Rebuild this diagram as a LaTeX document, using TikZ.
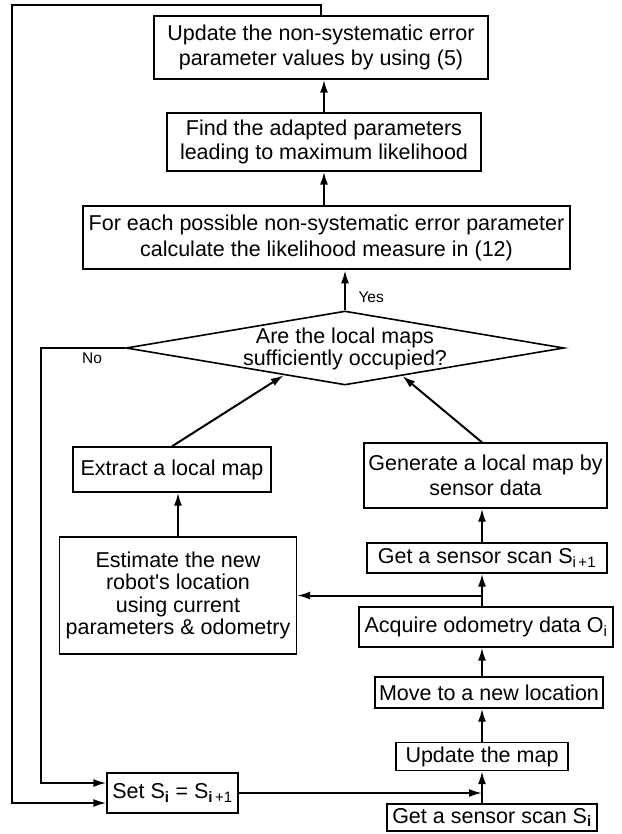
\documentclass[tikz,border=0pt]{standalone}
\usepackage{fontspec}
\setmainfont{Liberation Sans}
\usetikzlibrary{arrows.meta,shapes.geometric}
\begin{document}
\begin{tikzpicture}[x=1pt,y=-1pt,
    box/.style={draw,line width=1.3pt,align=center,inner sep=0pt,font=\fontsize{21.5}{25}\selectfont},
    arr/.style={line width=2pt,-{Latex[length=13pt,width=8pt]}},
    lbl/.style={font=\fontsize{15.5}{18}\selectfont}]
            \useasboundingbox (0,0) rectangle (621,834);
            \node[box,minimum width=334pt,minimum height=63pt] (A) at (321,47.5) {Update the non-systematic error\\parameter values by using (5)};
            \node[box,minimum width=314pt,minimum height=58pt,font=\fontsize{21.5}{24}\selectfont] (B) at (324,142) {Find the adapted parameters\\leading to maximum likelihood};
            \node[box,line width=2.6pt,minimum width=487pt,minimum height=63pt,font=\fontsize{21.5}{26}\selectfont] (C) at (326.5,237.5) {For each possible non-systematic error parameter\\calculate the likelihood measure in (12)};
            \node[diamond,draw,line width=1.6pt,minimum width=438pt,minimum height=74pt,inner sep=0pt] (D) at (345,348) {};
            \node[box,draw=none,font=\fontsize{21.5}{22}\selectfont] (Dt) at (345,349) {Are the local maps\\sufficiently occupied?};
            \node[box,minimum width=198pt,minimum height=45pt] (E) at (172,469.5) {Extract a local map};
            \node[box,minimum width=243pt,minimum height=65pt] (G) at (485.5,475.5) {Generate a local map by\\sensor data};
            \node[box,minimum width=237pt,minimum height=117pt,font=\fontsize{21.5}{22.5}\selectfont] (K) at (178,595.5) {Estimate the new\\robot\textquotesingle s location\\using current\\parameters \& odometry};
            \node[box,minimum width=240pt,minimum height=30pt] (S) at (487,558) {Get a sensor scan S\textsubscript{i\,+1}};
            \node[box,minimum width=254pt,minimum height=40pt] (O) at (486,627) {Acquire odometry data O\textsubscript{i}};
            \node[box,minimum width=228pt,minimum height=31pt] (M) at (489,692.5) {Move to a new location};
            \node[box,minimum width=172pt,minimum height=28pt] (R) at (482,756.5) {Update the map};
            \node[box,minimum width=131pt,minimum height=40pt] (T) at (172.5,793) {Set S\textsubscript{\textbf{i}} = S\textsubscript{\textbf{i}\,+1}};
            \node[box,minimum width=210pt,minimum height=27pt] (U) at (492,817.5) {Get a sensor scan S\textsubscript{\textbf{i}}};
            \node[lbl,anchor=west] (Y) at (355,297) {Yes};
            \node[lbl] (N) at (92,358) {No};
            
            \coordinate (spine) at (482,0);
            \coordinate (Q) at (12,5);
            \coordinate (P) at (41,348);
            
            \draw[arr] (U.north -| spine) -- (R.south -| spine);
            \draw[arr] (R.north -| spine) -- (M.south -| spine);
            \draw[arr] (M.north -| spine) -- (O.south -| spine);
            \draw[arr] (O.north -| spine) -- (S.south -| spine);
            \draw[arr] (S.north -| spine) -- (G.south -| spine);
            \draw[arr] (spine |- K.east) -- (K.east);
            \draw[arr] (T.east) -- (spine |- T.east);
            \draw[arr] (K.north) -- (K.north |- E.south);
            \draw[arr] (E.north) -- (D.204);
            \draw[arr] (G.north -| spine) -- (D.334);
            \draw[arr] (D.north) -- (D.north |- C.south);
            \draw[arr] (B.south |- C.north) -- (B.south);
            \draw[arr] (B.north) -- (B.north |- A.south);
            \draw[arr] (D.west) -- (P) |- ([yshift=10pt]T.west);
            \draw[arr] (A.north) |- (Q) |- ([yshift=-10pt]T.west);
          \end{tikzpicture}
\end{document}
